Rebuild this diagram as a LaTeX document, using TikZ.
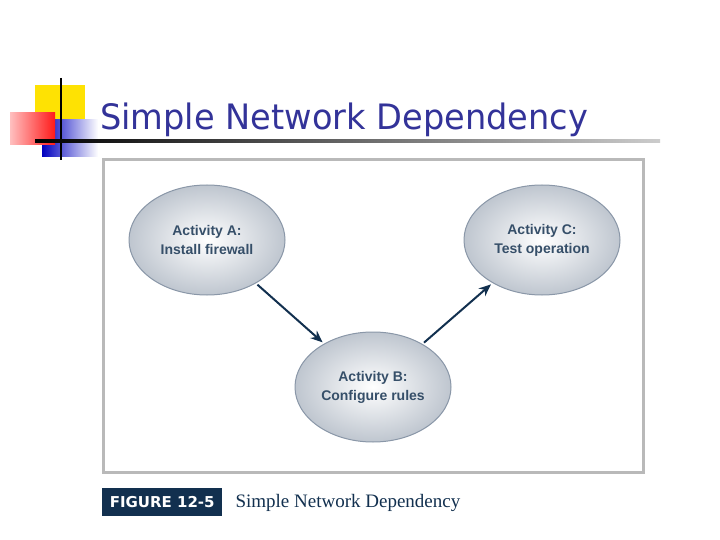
\documentclass[tikz,border=0pt]{standalone}
\usepackage{fontspec}
\setmainfont{Liberation Serif}
\newfontfamily\tsans{DejaVu Sans}
\newfontfamily\lsans{Liberation Sans}
\usetikzlibrary{arrows.meta,shapes.geometric}
\definecolor{titleblue}{HTML}{333399}
\definecolor{navy}{HTML}{12304F}
\definecolor{ellb}{HTML}{8A97A8}
\tikzset{
  act/.style={ellipse, draw=ellb, line width=1pt, minimum width=156pt, minimum height=110pt,
    inner color=white, outer color=ellb!55, font=\lsans\bfseries\fontsize{14}{19}\selectfont, text=navy!85, align=center},
  dep/.style={-{Stealth[length=12pt,width=10pt]}, draw=navy, line width=2pt, shorten <=2pt, shorten >=2pt}
}
\begin{document}
\begin{tikzpicture}[x=1pt,y=-1pt]
\useasboundingbox (0,0) rectangle (720,540);
\fill[white] (0,0) rectangle (720,540);
% decoration
\fill[yellow!85!orange] (35,85) rectangle (85,120);
\shade[left color=blue!75!black, right color=white] (42,120) rectangle (98,157);
\shade[left color=red!25, right color=red!90] (10,113) rectangle (55,145);
\draw[black, line width=2pt] (61,78) -- (61,160);
\shade[left color=black, right color=gray!40] (35,140) rectangle (660,142.5);
\node[anchor=base west, inner sep=0, text=titleblue, font=\tsans\fontsize{35}{40}\selectfont, xscale=0.96] (title) at (100,130) {Simple Network Dependency};
% frame
\draw[gray!55, line width=3pt] (103,160) rectangle (643,472);
\node[act] (A) at (207,240) {Activity A:\\Install firewall};
\node[act] (C) at (542,240) {Activity C:\\Test operation};
\node[act] (B) at (373,387) {Activity B:\\Configure rules};
\draw[dep] (A) -- (B);
\draw[dep] (B) -- (C);
% caption
\node[fill=navy, text=white, font=\tsans\bfseries\fontsize{15}{16}\selectfont, minimum width=120pt, minimum height=28pt, anchor=north west, inner sep=0] (fig) at (102,488) {FIGURE 12-5};
\node[anchor=west, text=navy, font=\fontsize{19}{20}\selectfont] (cap) at (232,503) {Simple Network Dependency};
\end{tikzpicture}
\end{document}
